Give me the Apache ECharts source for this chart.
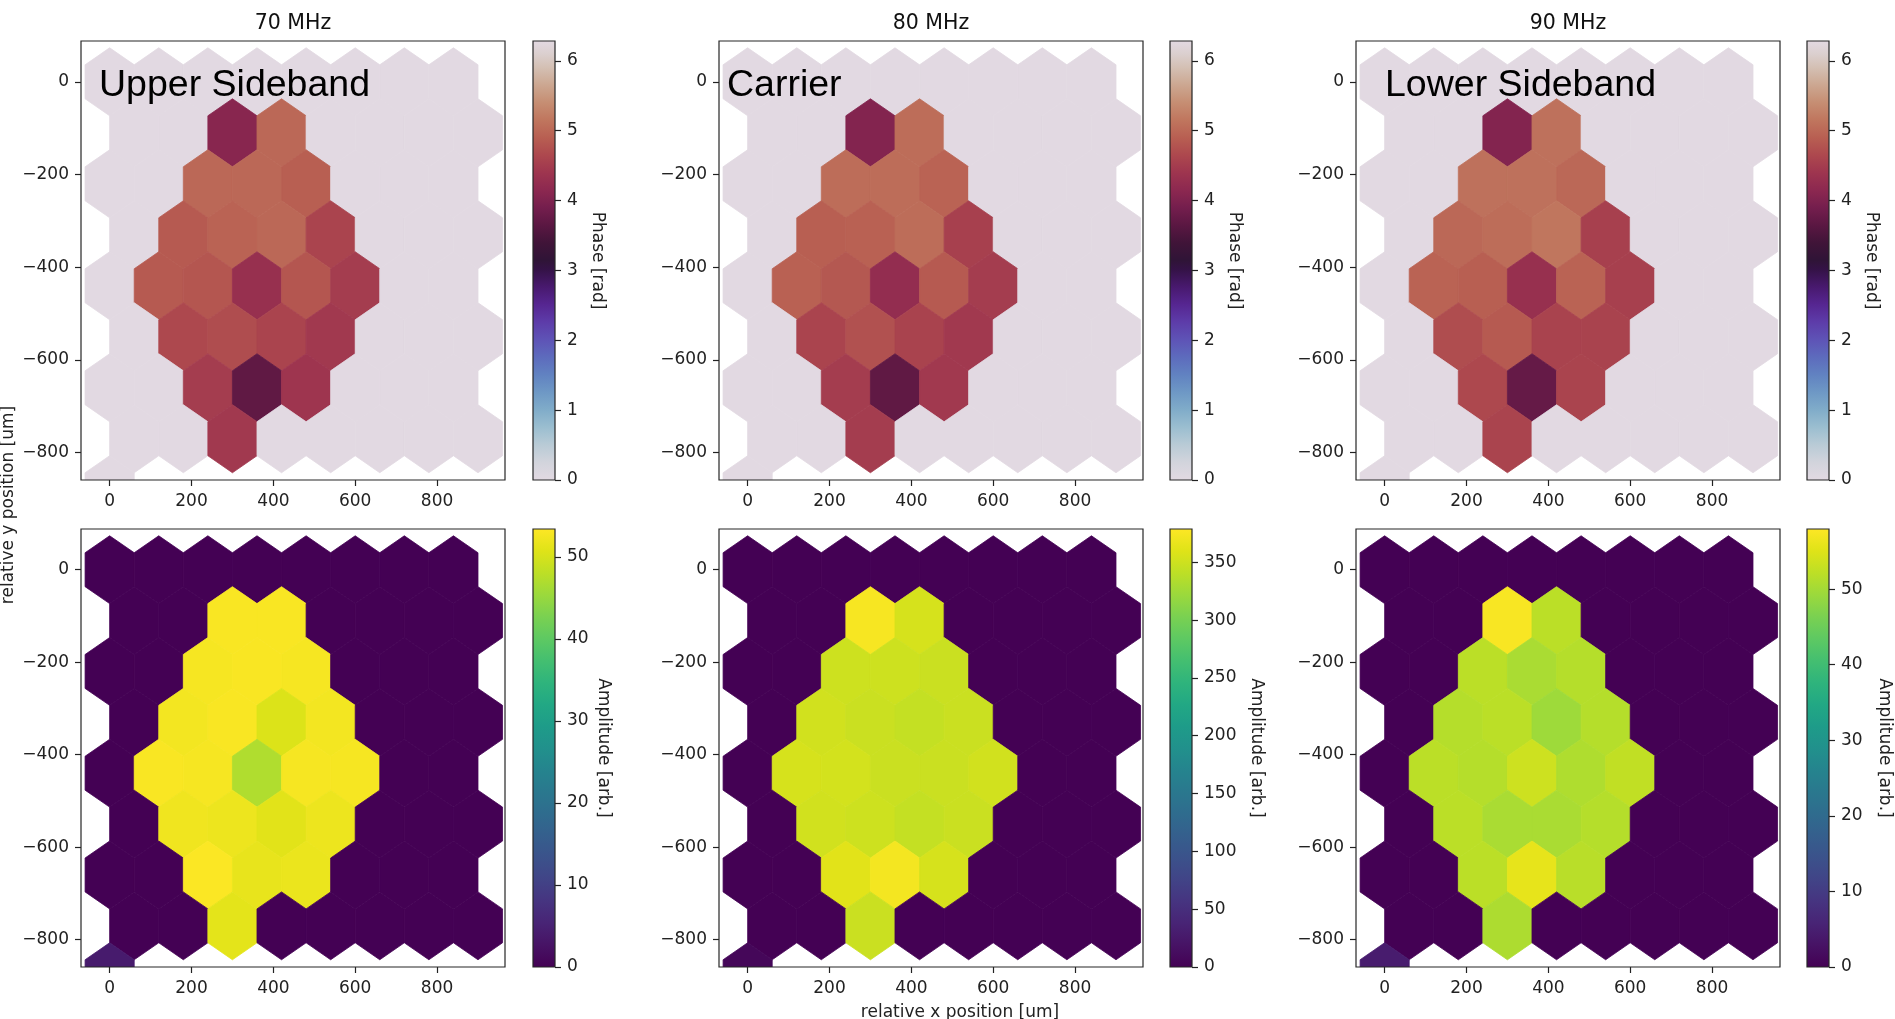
<!DOCTYPE html>
<html>
<head>
<meta charset="utf-8">
<title>Hexbin phase / amplitude</title>
<script src="https://cdn.jsdelivr.net/npm/echarts@6/dist/echarts.min.js"></script>
<style>
  html, body { margin: 0; padding: 0; background: #fff; }
  #chart { width: 1895px; height: 1019px; }
</style>
</head>
<body>
<div id="chart"></div>
<script>
// hex cell centres, one list per row (hexbin lattice)
const rowY = [0, -110, -220, -330, -440, -550, -660, -770, -880];
const rowX = [
  [0, 120, 240, 360, 480, 600, 720, 840],
  [60, 180, 300, 420, 540, 660, 780, 900],
  [0, 120, 240, 360, 480, 600, 720, 840],
  [60, 180, 300, 420, 540, 660, 780, 900],
  [0, 120, 240, 360, 480, 600, 720, 840],
  [60, 180, 300, 420, 540, 660, 780, 900],
  [0, 120, 240, 360, 480, 600, 720, 840],
  [60, 180, 300, 420, 540, 660, 780, 900],
  [0],
];

// phase [rad], same row layout as rowX
const phase70 = [
  [0, 0, 0, 0, 0, 0, 0, 0],
  [0, 0, 4.1, 5.0, 0, 0, 0, 0],
  [0, 0, 5.0, 5.0, 4.9, 0, 0, 0],
  [0, 4.85, 4.95, 5.0, 4.6, 0, 0, 0],
  [0, 4.85, 4.8, 4.3, 4.8, 4.5, 0, 0],
  [0, 4.65, 4.7, 4.6, 4.45, 0, 0, 0],
  [0, 0, 4.5, 3.7, 4.4, 0, 0, 0],
  [0, 0, 4.45, 0, 0, 0, 0, 0],
  [0],
];
const phase80 = [
  [0, 0, 0, 0, 0, 0, 0, 0],
  [0, 0, 4.05, 5.05, 0, 0, 0, 0],
  [0, 0, 5.05, 5.05, 4.95, 0, 0, 0],
  [0, 4.9, 4.92, 5.05, 4.55, 0, 0, 0],
  [0, 4.92, 4.82, 4.25, 4.85, 4.5, 0, 0],
  [0, 4.6, 4.75, 4.58, 4.45, 0, 0, 0],
  [0, 0, 4.5, 3.7, 4.45, 0, 0, 0],
  [0, 0, 4.5, 0, 0, 0, 0, 0],
  [0],
];
const phase90 = [
  [0, 0, 0, 0, 0, 0, 0, 0],
  [0, 0, 4.05, 5.1, 0, 0, 0, 0],
  [0, 0, 5.1, 5.1, 5.0, 0, 0, 0],
  [0, 5.0, 5.05, 5.15, 4.55, 0, 0, 0],
  [0, 4.95, 4.9, 4.3, 4.95, 4.55, 0, 0],
  [0, 4.7, 4.85, 4.58, 4.58, 0, 0, 0],
  [0, 0, 4.65, 3.75, 4.6, 0, 0, 0],
  [0, 0, 4.6, 0, 0, 0, 0, 0],
  [0],
];

// amplitude [arb.]
const amp70 = [
  [0, 0, 0, 0, 0, 0, 0, 0],
  [0, 0, 53, 53, 0, 0, 0, 0],
  [0, 0, 52.8, 53, 52.8, 0, 0, 0],
  [0, 52.5, 53, 50.5, 52.5, 0, 0, 0],
  [0, 53, 52.8, 47, 52.8, 52.8, 0, 0],
  [0, 52.2, 52, 51, 52, 0, 0, 0],
  [0, 0, 53.2, 51.5, 51.8, 0, 0, 0],
  [0, 0, 51.2, 0, 0, 0, 0, 0],
  [4],
];
const amp80 = [
  [0, 0, 0, 0, 0, 0, 0, 0],
  [0, 0, 375, 355, 0, 0, 0, 0],
  [0, 0, 350, 350, 348, 0, 0, 0],
  [0, 352, 348, 345, 348, 0, 0, 0],
  [0, 355, 353, 348, 348, 352, 0, 0],
  [0, 352, 350, 345, 348, 0, 0, 0],
  [0, 0, 362, 373, 355, 0, 0, 0],
  [0, 0, 348, 0, 0, 0, 0, 0],
  [6],
];
const amp90 = [
  [0, 0, 0, 0, 0, 0, 0, 0],
  [0, 0, 57.5, 52, 0, 0, 0, 0],
  [0, 0, 52, 50.5, 51.5, 0, 0, 0],
  [0, 51.5, 52, 49.5, 51.5, 0, 0, 0],
  [0, 52, 51.5, 53.5, 51, 52.5, 0, 0],
  [0, 52, 50.5, 50.5, 51.5, 0, 0, 0],
  [0, 0, 52, 55.8, 51.8, 0, 0, 0],
  [0, 0, 50.8, 0, 0, 0, 0, 0],
  [4.5],
];

const titles = ['70 MHz', '80 MHz', '90 MHz'];
const tags = ['Upper Sideband', 'Carrier', 'Lower Sideband'];
const phases = [phase70, phase80, phase90];
const amps = [amp70, amp80, amp90];
const ampMax = [53.4, 378.8, 57.95];
const ampTicks = [
  [0, 10, 20, 30, 40, 50],
  [0, 50, 100, 150, 200, 250, 300, 350],
  [0, 10, 20, 30, 40, 50],
];
const phaseMax = 2 * Math.PI;
const phaseTicks = [0, 1, 2, 3, 4, 5, 6];
const xTicks = [0, 200, 400, 600, 800];
const yTicks = [-800, -600, -400, -200, 0];
const xRange = [-70, 966];
const yRange = [-859, 88];

// colormaps
const twilight = [
  [0.00, [226, 217, 226]], [0.04, [210, 212, 220]], [0.08, [185, 203, 214]],
  [0.12, [155, 190, 208]], [0.16, [128, 172, 201]], [0.20, [110, 152, 197]],
  [0.24, [97, 130, 193]], [0.28, [93, 107, 189]], [0.32, [94, 83, 182]],
  [0.36, [93, 60, 169]], [0.40, [86, 38, 145]], [0.44, [72, 25, 110]],
  [0.48, [52, 18, 70]], [0.50, [47, 20, 55]], [0.54, [64, 20, 56]],
  [0.58, [90, 23, 66]], [0.62, [116, 30, 77]], [0.66, [140, 40, 80]],
  [0.70, [158, 53, 79]], [0.74, [173, 72, 78]], [0.78, [184, 95, 82]],
  [0.82, [192, 118, 94]], [0.86, [198, 142, 115]], [0.90, [204, 167, 145]],
  [0.94, [212, 192, 180]], [0.97, [219, 207, 206]], [1.00, [226, 217, 226]],
];
const viridisHex = ['#440154', '#471365', '#482475', '#463480', '#414487', '#3b528b',
  '#355f8d', '#2f6c8e', '#2a788e', '#25848e', '#21918c', '#1e9c89', '#22a884',
  '#2fb47c', '#44bf70', '#5ec962', '#7ad151', '#9bd93c', '#bddf26', '#dfe318', '#fde725'];
const viridis = viridisHex.map((h, i) => [i / (viridisHex.length - 1),
  [parseInt(h.slice(1, 3), 16), parseInt(h.slice(3, 5), 16), parseInt(h.slice(5, 7), 16)]]);

function sampleColor(cmap, t) {
  t = Math.max(0, Math.min(1, t));
  for (let i = 1; i < cmap.length; i++) {
    if (t <= cmap[i][0]) {
      const [t0, c0] = cmap[i - 1];
      const [t1, c1] = cmap[i];
      const f = (t - t0) / (t1 - t0 || 1);
      const c = c0.map((v, k) => Math.round(v + (c1[k] - v) * f));
      return 'rgb(' + c.join(',') + ')';
    }
  }
  return 'rgb(' + cmap[cmap.length - 1][1].join(',') + ')';
}

function gradientOf(cmap) {
  return new echarts.graphic.LinearGradient(0, 1, 0, 0,
    cmap.map(([t, c]) => ({ offset: t, color: 'rgb(' + c.join(',') + ')' })));
}

// hexbin cell geometry (data units)
const HEX_W = 120;
const HEX_H = 220;
const hexShape = [
  [HEX_W / 2, -HEX_H / 6], [HEX_W / 2, HEX_H / 6], [0, HEX_H / 3],
  [-HEX_W / 2, HEX_H / 6], [-HEX_W / 2, -HEX_H / 6], [0, -HEX_H / 3],
];

function cells(values) {
  const out = [];
  rowY.forEach((y, r) => rowX[r].forEach((x, c) => out.push([x, y, values[r][c]])));
  return out;
}

const FONT = 'DejaVu Sans';
const colLeft = [81, 719, 1356];
const cbLeft = [533, 1170, 1807];
const boxW = 424;
const cbW = 22;
const rowTop = [41, 529];
const rowH = [439, 438];
const tagLeft = [99, 727, 1385];

const minus = (v) => String(v).replace('-', '\u2212');
const tickStyle = (vals) => ({
  show: true, inside: false, length: 6, lineStyle: { color: '#222', width: 1.2 }, customValues: vals,
});

const grid = [];
const xAxis = [];
const yAxis = [];
const series = [];
const graphic = [];

for (let r = 0; r < 2; r++) {
  for (let c = 0; c < 3; c++) {
    const isPhase = r === 0;
    const vmax = isPhase ? phaseMax : ampMax[c];
    const cmap = isPhase ? twilight : viridis;

    // main hexbin panel
    const gi = grid.length;
    grid.push({
      left: colLeft[c], top: rowTop[r], width: boxW, height: rowH[r],
      show: true, borderColor: '#262626', borderWidth: 1.2, backgroundColor: 'transparent', z: 5,
    });
    xAxis.push({
      type: 'value', gridIndex: gi, min: xRange[0], max: xRange[1], position: 'bottom',
      splitLine: { show: false }, axisLine: { show: false, onZero: false },
      axisTick: tickStyle(xTicks),
      axisLabel: { color: '#222', fontFamily: FONT, fontSize: 17, margin: 13, customValues: xTicks },
    });
    yAxis.push({
      type: 'value', gridIndex: gi, min: yRange[0], max: yRange[1], position: 'left',
      splitLine: { show: false }, axisLine: { show: false, onZero: false },
      axisTick: tickStyle(yTicks),
      axisLabel: { color: '#222', fontFamily: FONT, fontSize: 17, margin: 12, formatter: minus, customValues: yTicks },
    });
    series.push({
      type: 'custom', xAxisIndex: gi, yAxisIndex: gi, clip: true, silent: true,
      data: cells(isPhase ? phases[c] : amps[c]),
      renderItem: (params, api) => {
        const cx = api.value(0), cy = api.value(1), v = api.value(2);
        const col = sampleColor(cmap, v / vmax);
        return {
          type: 'polygon',
          shape: { points: hexShape.map(([dx, dy]) => api.coord([cx + dx, cy + dy])) },
          style: { fill: col, stroke: col, lineWidth: 0.8 },
        };
      },
    });

    // colour bar
    const ci = grid.length;
    grid.push({
      left: cbLeft[c], top: rowTop[r], width: cbW, height: rowH[r],
      show: true, borderColor: '#262626', borderWidth: 1.2, backgroundColor: 'transparent', z: 5,
    });
    xAxis.push({ type: 'value', gridIndex: ci, min: 0, max: 1, show: false, axisLine: { onZero: false } });
    const ticks = isPhase ? phaseTicks : ampTicks[c];
    yAxis.push({
      type: 'value', gridIndex: ci, position: 'right', min: 0, max: vmax,
      splitLine: { show: false }, axisLine: { show: false, onZero: false },
      axisTick: tickStyle(ticks),
      axisLabel: { color: '#222', fontFamily: FONT, fontSize: 17, margin: 12, customValues: ticks },
      name: isPhase ? 'Phase [rad]' : 'Amplitude [arb.]',
      nameLocation: 'middle', nameRotate: -90,
      nameGap: isPhase ? 34 : [40, 56, 47][c],
      nameTextStyle: { color: '#222', fontFamily: FONT, fontSize: 17 },
    });
    series.push({
      type: 'custom', xAxisIndex: ci, yAxisIndex: ci, silent: true,
      data: [[vmax]],
      renderItem: (params, api) => {
        const p0 = api.coord([0, 0]);
        const p1 = api.coord([1, api.value(0)]);
        return {
          type: 'rect',
          shape: { x: p0[0], y: p1[1], width: p1[0] - p0[0], height: p0[1] - p1[1] },
          style: { fill: gradientOf(cmap) },
        };
      },
    });

    if (isPhase) {
      graphic.push({
        type: 'text', x: colLeft[c] + boxW / 2, y: 24,
        style: { text: titles[c], font: '20.5px "DejaVu Sans"', fill: '#111', align: 'center', verticalAlign: 'middle' },
      });
      graphic.push({
        type: 'text', x: tagLeft[c], y: 86, z: 10,
        style: { text: tags[c], font: '37.5px "Liberation Sans"', fill: '#000', align: 'left', verticalAlign: 'middle' },
      });
    }
  }
}

graphic.push({
  type: 'text', x: 960, y: 1013,
  style: { text: 'relative x position [um]', font: '17px "DejaVu Sans"', fill: '#222', align: 'center', verticalAlign: 'middle' },
});
graphic.push({
  type: 'text', x: 9, y: 505, rotation: Math.PI / 2,
  style: { text: 'relative y position [um]', font: '17px "DejaVu Sans"', fill: '#222', align: 'center', verticalAlign: 'middle' },
});

const chart = echarts.init(document.getElementById('chart'), null, { renderer: 'canvas' });
chart.setOption({
  backgroundColor: '#ffffff',
  animation: false,
  grid,
  xAxis,
  yAxis,
  series,
  graphic,
});
</script>
</body>
</html>
